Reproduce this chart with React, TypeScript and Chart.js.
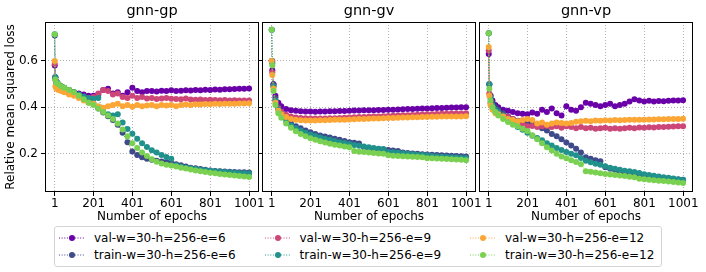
import React, { useEffect, useRef } from "react";
import { Chart, registerables } from "chart.js";

Chart.register(...registerables);

// ---------- data ----------
const EPOCHS = [1, 4, 10, 20, 35, 50, 75, 100, 125, 150, 175, 200, 225, 250, 275, 300, 325, 350, 375, 400, 425, 450, 475, 500, 525, 550, 575, 600, 625, 650, 675, 700, 725, 750, 775, 800, 825, 850, 875, 900, 925, 950, 975, 1000];
const X_TICKS = [1, 201, 401, 601, 801, 1001];
const Y_TICKS = [0.2, 0.4, 0.6];
const PANEL_TITLES = ["gnn-gp", "gnn-gv", "gnn-vp"];
const SERIES_LABELS = [
  "val-w=30-h=256-e=6",
  "train-w=30-h=256-e=6",
  "val-w=30-h=256-e=9",
  "train-w=30-h=256-e=9",
  "val-w=30-h=256-e=12",
  "train-w=30-h=256-e=12",
];
const SERIES_COLORS = ["#6a00a8", "#3e4a89", "#cc4778", "#21918c", "#fca636", "#7ad151"];

// gnn-gp
const GP_VAL_E6 = [0.58, 0.53, 0.51, 0.5, 0.49, 0.48, 0.47, 0.465, 0.46, 0.455, 0.45, 0.45, 0.455, 0.475, 0.48, 0.46, 0.465, 0.45, 0.465, 0.485, 0.47, 0.465, 0.47, 0.47, 0.468, 0.472, 0.47, 0.474, 0.47, 0.472, 0.474, 0.473, 0.475, 0.474, 0.476, 0.475, 0.477, 0.476, 0.478, 0.478, 0.479, 0.48, 0.48, 0.481];
const GP_TRAIN_E6 = [0.71, 0.53, 0.51, 0.5, 0.49, 0.485, 0.475, 0.465, 0.455, 0.445, 0.43, 0.415, 0.395, 0.378, 0.362, 0.345, 0.325, 0.29, 0.25, 0.21, 0.195, 0.185, 0.178, 0.174, 0.17, 0.167, 0.164, 0.16, 0.155, 0.15, 0.145, 0.14, 0.137, 0.134, 0.131, 0.128, 0.126, 0.124, 0.123, 0.122, 0.121, 0.12, 0.12, 0.119];
const GP_VAL_E9 = [0.587, 0.52, 0.5, 0.49, 0.48, 0.47, 0.46, 0.455, 0.45, 0.445, 0.44, 0.445, 0.46, 0.475, 0.47, 0.455, 0.46, 0.445, 0.44, 0.45, 0.44, 0.445, 0.438, 0.44, 0.436, 0.438, 0.44, 0.437, 0.436, 0.435, 0.438, 0.434, 0.433, 0.434, 0.432, 0.433, 0.432, 0.431, 0.432, 0.43, 0.431, 0.43, 0.43, 0.43];
const GP_TRAIN_E9 = [0.715, 0.53, 0.51, 0.5, 0.49, 0.485, 0.475, 0.465, 0.455, 0.447, 0.44, 0.437, 0.44, 0.39, 0.37, 0.365, 0.37, 0.335, 0.307, 0.286, 0.265, 0.245, 0.229, 0.215, 0.205, 0.195, 0.186, 0.178, 0.15, 0.145, 0.14, 0.137, 0.134, 0.131, 0.129, 0.127, 0.125, 0.123, 0.121, 0.12, 0.118, 0.117, 0.116, 0.115];
const GP_VAL_E12 = [0.6, 0.49, 0.48, 0.475, 0.47, 0.465, 0.455, 0.45, 0.44, 0.43, 0.42, 0.415, 0.405, 0.398, 0.405, 0.41, 0.415, 0.405, 0.41, 0.403, 0.41, 0.405, 0.408, 0.41, 0.405, 0.41, 0.408, 0.41, 0.405, 0.41, 0.412, 0.41, 0.413, 0.412, 0.414, 0.413, 0.415, 0.414, 0.416, 0.415, 0.416, 0.417, 0.417, 0.418];
const GP_TRAIN_E12 = [0.715, 0.52, 0.505, 0.5, 0.49, 0.485, 0.475, 0.465, 0.45, 0.435, 0.42, 0.41, 0.395, 0.38, 0.365, 0.35, 0.33, 0.305, 0.275, 0.245, 0.225, 0.205, 0.19, 0.176, 0.165, 0.158, 0.153, 0.149, 0.145, 0.14, 0.136, 0.132, 0.128, 0.124, 0.121, 0.118, 0.116, 0.113, 0.11, 0.108, 0.106, 0.104, 0.102, 0.1];

// gnn-gv
const GV_VAL_E6 = [0.6, 0.56, 0.5, 0.45, 0.42, 0.405, 0.393, 0.388, 0.385, 0.383, 0.382, 0.382, 0.381, 0.382, 0.382, 0.383, 0.383, 0.384, 0.384, 0.385, 0.386, 0.386, 0.387, 0.387, 0.388, 0.389, 0.389, 0.39, 0.39, 0.391, 0.392, 0.393, 0.393, 0.394, 0.395, 0.395, 0.396, 0.397, 0.397, 0.398, 0.399, 0.399, 0.4, 0.4];
const GV_TRAIN_E6 = [0.735, 0.6, 0.5, 0.44, 0.4, 0.38, 0.35, 0.33, 0.318, 0.31, 0.3, 0.293, 0.285, 0.279, 0.274, 0.27, 0.265, 0.26, 0.255, 0.25, 0.247, 0.244, 0.228, 0.225, 0.222, 0.22, 0.218, 0.216, 0.214, 0.212, 0.205, 0.203, 0.201, 0.2, 0.198, 0.197, 0.196, 0.194, 0.193, 0.192, 0.191, 0.19, 0.189, 0.188];
const GV_VAL_E9 = [0.6, 0.55, 0.49, 0.43, 0.395, 0.38, 0.368, 0.36, 0.356, 0.354, 0.353, 0.352, 0.352, 0.352, 0.352, 0.353, 0.353, 0.354, 0.355, 0.356, 0.357, 0.358, 0.358, 0.359, 0.36, 0.361, 0.362, 0.363, 0.364, 0.365, 0.366, 0.366, 0.367, 0.368, 0.369, 0.37, 0.37, 0.371, 0.372, 0.372, 0.373, 0.373, 0.374, 0.375];
const GV_TRAIN_E9 = [0.735, 0.59, 0.49, 0.43, 0.39, 0.37, 0.342, 0.322, 0.31, 0.3, 0.29, 0.283, 0.276, 0.27, 0.265, 0.26, 0.255, 0.25, 0.246, 0.242, 0.238, 0.234, 0.231, 0.228, 0.225, 0.222, 0.22, 0.208, 0.206, 0.204, 0.202, 0.2, 0.198, 0.196, 0.195, 0.193, 0.19, 0.188, 0.187, 0.186, 0.185, 0.184, 0.183, 0.182];
const GV_VAL_E12 = [0.6, 0.54, 0.48, 0.42, 0.385, 0.37, 0.358, 0.35, 0.346, 0.344, 0.343, 0.343, 0.343, 0.344, 0.344, 0.345, 0.346, 0.346, 0.347, 0.348, 0.349, 0.35, 0.35, 0.351, 0.352, 0.352, 0.353, 0.354, 0.354, 0.355, 0.356, 0.356, 0.357, 0.357, 0.358, 0.358, 0.359, 0.359, 0.36, 0.36, 0.36, 0.361, 0.361, 0.362];
const GV_TRAIN_E12 = [0.735, 0.58, 0.47, 0.41, 0.375, 0.355, 0.33, 0.312, 0.297, 0.285, 0.275, 0.267, 0.26, 0.254, 0.248, 0.243, 0.239, 0.235, 0.231, 0.228, 0.212, 0.209, 0.207, 0.205, 0.203, 0.201, 0.2, 0.193, 0.191, 0.19, 0.189, 0.188, 0.187, 0.186, 0.185, 0.181, 0.18, 0.179, 0.178, 0.177, 0.176, 0.175, 0.174, 0.172];

// gnn-vp
const VP_VAL_E6 = [0.63, 0.5, 0.45, 0.43, 0.41, 0.4, 0.39, 0.385, 0.38, 0.375, 0.372, 0.37, 0.378, 0.372, 0.39, 0.38, 0.395, 0.375, 0.365, 0.405, 0.39, 0.385, 0.4, 0.42, 0.415, 0.41, 0.405, 0.41, 0.415, 0.405, 0.41, 0.415, 0.425, 0.435, 0.43, 0.425, 0.428, 0.425, 0.427, 0.426, 0.428, 0.429, 0.43, 0.431];
const VP_TRAIN_E6 = [0.72, 0.5, 0.45, 0.42, 0.4, 0.39, 0.375, 0.36, 0.35, 0.342, 0.339, 0.336, 0.328, 0.32, 0.31, 0.3, 0.285, 0.275, 0.262, 0.248, 0.235, 0.222, 0.205, 0.185, 0.178, 0.172, 0.168, 0.142, 0.135, 0.13, 0.125, 0.12, 0.116, 0.112, 0.108, 0.105, 0.102, 0.1, 0.097, 0.095, 0.093, 0.091, 0.089, 0.088];
const VP_VAL_E9 = [0.645, 0.46, 0.42, 0.4, 0.385, 0.375, 0.365, 0.358, 0.35, 0.34, 0.33, 0.318, 0.32, 0.315, 0.318, 0.32, 0.315, 0.318, 0.312, 0.318, 0.315, 0.31, 0.315, 0.31, 0.312, 0.308, 0.31, 0.312, 0.308, 0.31, 0.308, 0.31, 0.312, 0.31, 0.313, 0.312, 0.314, 0.313, 0.315, 0.315, 0.316, 0.317, 0.318, 0.319];
const VP_TRAIN_E9 = [0.72, 0.5, 0.44, 0.41, 0.39, 0.38, 0.365, 0.35, 0.333, 0.315, 0.303, 0.29, 0.278, 0.268, 0.258, 0.245, 0.235, 0.225, 0.216, 0.208, 0.2, 0.193, 0.182, 0.17, 0.163, 0.157, 0.152, 0.146, 0.14, 0.135, 0.131, 0.127, 0.124, 0.121, 0.117, 0.112, 0.108, 0.105, 0.102, 0.099, 0.096, 0.093, 0.09, 0.087];
const VP_VAL_E12 = [0.66, 0.45, 0.41, 0.39, 0.375, 0.37, 0.36, 0.35, 0.345, 0.34, 0.345, 0.35, 0.345, 0.33, 0.335, 0.325, 0.33, 0.335, 0.332, 0.33, 0.332, 0.338, 0.34, 0.342, 0.34, 0.343, 0.342, 0.344, 0.343, 0.345, 0.344, 0.345, 0.346, 0.346, 0.347, 0.347, 0.348, 0.348, 0.349, 0.349, 0.35, 0.35, 0.35, 0.351];
const VP_TRAIN_E12 = [0.72, 0.48, 0.43, 0.4, 0.38, 0.365, 0.35, 0.337, 0.325, 0.318, 0.308, 0.298, 0.28, 0.262, 0.245, 0.228, 0.214, 0.2, 0.188, 0.18, 0.172, 0.164, 0.155, 0.125, 0.122, 0.119, 0.116, 0.113, 0.11, 0.108, 0.106, 0.104, 0.101, 0.099, 0.092, 0.09, 0.088, 0.086, 0.084, 0.082, 0.08, 0.078, 0.076, 0.074];

const PANEL_SERIES = [
  [GP_VAL_E6, GP_TRAIN_E6, GP_VAL_E9, GP_TRAIN_E9, GP_VAL_E12, GP_TRAIN_E12],
  [GV_VAL_E6, GV_TRAIN_E6, GV_VAL_E9, GV_TRAIN_E9, GV_VAL_E12, GV_TRAIN_E12],
  [VP_VAL_E6, VP_TRAIN_E6, VP_VAL_E9, VP_TRAIN_E9, VP_VAL_E12, VP_TRAIN_E12],
];

// ---------- layout ----------
const FONT = "'DejaVu Sans', sans-serif";
const CANVAS_W = 706;
const CANVAS_H = 226;
const PANEL_LEFT = [45, 262, 479];
const PANEL_WIDTH = 214;

const framePlugin = {
  id: "frame",
  afterDraw(chart: any) {
    const { ctx, chartArea: a } = chart;
    ctx.save();
    ctx.strokeStyle = "#000";
    ctx.lineWidth = 1;
    const l = Math.round(a.left) + 0.5;
    const t = Math.round(a.top) + 0.5;
    const r = Math.round(a.right) - 0.5;
    const b = Math.round(a.bottom) - 0.5;
    ctx.strokeRect(l, t, r - l, b - t);
    ctx.restore();
  },
};

function zeroPad(s: any) {
  s.paddingLeft = 0;
  s.paddingRight = 0;
  s.paddingTop = 0;
  s.paddingBottom = 0;
}

function Panel({ index }: { index: number }) {
  const ref = useRef<HTMLCanvasElement | null>(null);
  useEffect(() => {
    const canvas = ref.current;
    if (!canvas) return;
    const left = PANEL_LEFT[index];
    const right = left + PANEL_WIDTH;
    const yAxisW = index === 0 ? 45 : 4;
    const series = PANEL_SERIES[index];
    const chart = new Chart(canvas, {
      type: "line",
      data: {
        datasets: SERIES_LABELS.map((label, k) => ({
          label,
          data: EPOCHS.map((e, j) => ({ x: e, y: series[k][j] })),
          borderColor: SERIES_COLORS[k],
          backgroundColor: SERIES_COLORS[k],
          pointBackgroundColor: SERIES_COLORS[k],
          borderWidth: 1,
          borderDash: [1, 1.65],
          pointRadius: 3,
          pointBorderWidth: 0,
          tension: 0,
          order: 5 - k,
        })),
      },
      options: {
        responsive: false,
        animation: false,
        devicePixelRatio: 1,
        events: [],
        layout: { padding: { left: left - yAxisW, right: CANVAS_W - right, top: 0, bottom: 0 } },
        plugins: {
          legend: { display: false },
          tooltip: { enabled: false },
          title: {
            display: true,
            text: PANEL_TITLES[index],
            fullSize: false,
            color: "#000",
            font: { family: FONT, size: 14.5, weight: "normal", lineHeight: 1.2 },
            padding: { top: 2.6, bottom: 2 },
          },
        },
        scales: {
          x: {
            type: "linear",
            min: -49,
            max: 1051,
            afterBuildTicks: (s: any) => {
              s.ticks = X_TICKS.map((v) => ({ value: v }));
            },
            afterFit: (s: any) => {
              s.height = CANVAS_H - 192;
              zeroPad(s);
            },
            ticks: {
              autoSkip: false,
              maxRotation: 0,
              padding: 1,
              color: "#000",
              font: { family: FONT, size: 12 },
              callback: (v: any) => String(v),
            },
            grid: {
              color: "#b0b0b0",
              lineWidth: 1,
              drawTicks: true,
              tickLength: 4,
              tickColor: "#000",
              tickWidth: 1,
              tickBorderDash: [],
            },
            border: { display: false, dash: [1, 2] },
            title: {
              display: true,
              text: "Number of epochs",
              color: "#000",
              font: { family: FONT, size: 12, lineHeight: 1.2 },
              padding: { top: 0, bottom: 1.5 },
            },
          },
          y: {
            type: "linear",
            min: 0.035,
            max: 0.768,
            afterBuildTicks: (s: any) => {
              s.ticks = Y_TICKS.map((v) => ({ value: v }));
            },
            afterFit: (s: any) => {
              s.width = yAxisW;
              zeroPad(s);
            },
            ticks: {
              display: index === 0,
              padding: 3,
              color: "#000",
              font: { family: FONT, size: 12 },
              callback: (v: any) => Number(v).toFixed(1),
            },
            grid: {
              color: "#b0b0b0",
              lineWidth: 1,
              drawTicks: true,
              tickLength: 4,
              tickColor: "#000",
              tickWidth: 1,
              tickBorderDash: [],
            },
            border: { display: false, dash: [1, 2] },
            title: {
              display: index === 0,
              text: "Relative mean squared loss",
              color: "#000",
              font: { family: FONT, size: 12, lineHeight: 1.2 },
              padding: { top: 4, bottom: 0 },
            },
          },
        },
      } as any,
      plugins: [framePlugin],
    });
    return () => chart.destroy();
  }, [index]);
  return (
    <canvas
      ref={ref}
      width={CANVAS_W}
      height={CANVAS_H}
      style={{ position: "absolute", left: 0, top: 0, width: CANVAS_W, height: CANVAS_H }}
    />
  );
}

function LegendBox() {
  return (
    <div
      style={{
        position: "absolute",
        left: 54,
        top: 226,
        width: 608,
        height: 41,
        border: "1px solid #d4d4d4",
        borderRadius: 3,
        boxSizing: "border-box",
        background: "#fff",
      }}
    >
      {SERIES_LABELS.map((label, k) => {
        const col = Math.floor(k / 2);
        const row = k % 2;
        const cx = 4 + col * 205.5;
        const cy = 11 + row * 17;
        return (
          <React.Fragment key={label}>
            <svg width={26} height={10} style={{ position: "absolute", left: cx, top: cy - 5 }}>
              <line x1={0} y1={5} x2={26} y2={5} stroke={SERIES_COLORS[k]} strokeWidth={1} strokeDasharray="1 1.65" />
              <circle cx={13} cy={5} r={3} fill={SERIES_COLORS[k]} />
            </svg>
            <div
              style={{
                position: "absolute",
                left: cx + 35,
                top: cy - 8.5,
                height: 17,
                lineHeight: "17px",
                fontFamily: FONT,
                fontSize: 12,
                color: "#000",
                whiteSpace: "nowrap",
              }}
            >
              {label}
            </div>
          </React.Fragment>
        );
      })}
    </div>
  );
}

export default function App() {
  return (
    <div
      style={{
        position: "absolute",
        left: 0,
        top: 0,
        width: 706,
        height: 272,
        background: "#fff",
        overflow: "hidden",
      }}
    >
      {[0, 1, 2].map((i) => (
        <Panel key={i} index={i} />
      ))}
      <LegendBox />
    </div>
  );
}
